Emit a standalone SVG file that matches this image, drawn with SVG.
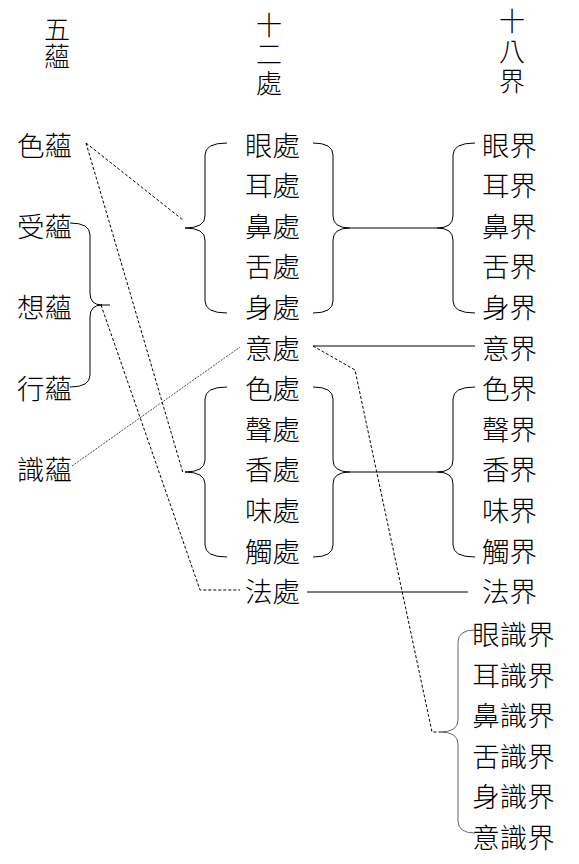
<svg xmlns="http://www.w3.org/2000/svg" width="579" height="864" viewBox="0 0 579 864">
<style>
text{font-family:"Noto Sans CJK TC","Noto Sans CJK JP",sans-serif;font-size:27.5px;font-weight:300;fill:#000;text-anchor:middle}
.t{font-size:26px;writing-mode:vertical-rl;text-anchor:start}
.c{fill:none;stroke:#000;stroke-width:1}
.g{fill:none;stroke:#666;stroke-width:1}
.d{fill:none;stroke:#000;stroke-width:1;stroke-dasharray:3 2}
.f{fill:none;stroke:#333;stroke-width:0.9;stroke-dasharray:2 1.2}
</style>
<rect width="579" height="864" fill="#fff"/>
<g id="title-wuyun"><text class="t" x="57" y="16" letter-spacing="1">五蘊</text></g>
<g id="title-shierchu"><text class="t" x="269" y="12" letter-spacing="3">十二處</text></g>
<g id="title-shibajie"><text class="t" x="512" y="8" letter-spacing="4">十八界</text></g>

<g id="skandhas">
<g id="n-seyun"><text x="44.5" y="155.5">色蘊</text></g>
<g id="n-shouyun"><text x="44.5" y="236.7">受蘊</text></g>
<g id="n-xiangyun"><text x="44.5" y="317.9">想蘊</text></g>
<g id="n-xingyun"><text x="44.5" y="399.1">行蘊</text></g>
<g id="n-shiyun"><text x="44.5" y="480.3">識蘊</text></g>
</g>

<g id="ayatanas">
<g id="n-yanchu"><text x="272.5" y="155.5">眼處</text></g>
<g id="n-erchu"><text x="272.5" y="196.1">耳處</text></g>
<g id="n-bichu"><text x="272.5" y="236.7">鼻處</text></g>
<g id="n-shechu"><text x="272.5" y="277.3">舌處</text></g>
<g id="n-shenchu"><text x="272.5" y="317.9">身處</text></g>
<g id="n-yichu"><text x="272.5" y="358.5">意處</text></g>
<g id="n-sechu"><text x="272.5" y="399.1">色處</text></g>
<g id="n-shengchu"><text x="272.5" y="439.7">聲處</text></g>
<g id="n-xiangchu"><text x="272.5" y="480.3">香處</text></g>
<g id="n-weichu"><text x="272.5" y="520.9">味處</text></g>
<g id="n-chuchu"><text x="272.5" y="561.5">觸處</text></g>
<g id="n-fachu"><text x="272.5" y="602.1">法處</text></g>
</g>

<g id="dhatus">
<g id="n-yanjie"><text x="509.5" y="155.5">眼界</text></g>
<g id="n-erjie"><text x="509.5" y="196.1">耳界</text></g>
<g id="n-bijie"><text x="509.5" y="236.7">鼻界</text></g>
<g id="n-shejie"><text x="509.5" y="277.3">舌界</text></g>
<g id="n-shenjie"><text x="509.5" y="317.9">身界</text></g>
<g id="n-yijie"><text x="509.5" y="358.5">意界</text></g>
<g id="n-sejie"><text x="509.5" y="399.1">色界</text></g>
<g id="n-shengjie"><text x="509.5" y="439.7">聲界</text></g>
<g id="n-xiangjie"><text x="509.5" y="480.3">香界</text></g>
<g id="n-weijie"><text x="509.5" y="520.9">味界</text></g>
<g id="n-chujie"><text x="509.5" y="561.5">觸界</text></g>
<g id="n-fajie"><text x="509.5" y="602.1">法界</text></g>
<g id="n-yanshijie"><text x="513.5" y="645">眼識界</text></g>
<g id="n-ershijie"><text x="513.5" y="685.6">耳識界</text></g>
<g id="n-bishijie"><text x="513.5" y="726.2">鼻識界</text></g>
<g id="n-sheshijie"><text x="513.5" y="766.8">舌識界</text></g>
<g id="n-shenshijie"><text x="513.5" y="807.4">身識界</text></g>
<g id="n-yishijie"><text x="513.5" y="848">意識界</text></g>
</g>

<g id="connectors">
<path class="c" d="M227,143 Q205,143 205,155 L205,216 Q205,228 185,228 Q205,228 205,240 L205,301 Q205,313 227,313"/>
<path class="c" d="M313,143 Q333,143 333,155 L333,216 Q333,228 350,228 Q333,228 333,240 L333,301 Q333,313 313,313"/>
<path class="c" d="M475,143 Q453,143 453,155 L453,216 Q453,228 437,228 Q453,228 453,240 L453,301 Q453,313 475,313"/>
<line class="c" x1="350" y1="228" x2="437" y2="228"/>
<path class="c" d="M227,387 Q205,387 205,399 L205,460 Q205,472 185,472 Q205,472 205,484 L205,545 Q205,557 227,557"/>
<path class="c" d="M313,387 Q333,387 333,399 L333,460 Q333,472 350,472 Q333,472 333,484 L333,545 Q333,557 313,557"/>
<path class="c" d="M475,387 Q453,387 453,399 L453,460 Q453,472 437,472 Q453,472 453,484 L453,545 Q453,557 475,557"/>
<line class="c" x1="350" y1="472" x2="437" y2="472"/>
<line class="c" x1="313" y1="346" x2="475" y2="346"/>
<line class="c" x1="307" y1="592" x2="468" y2="592"/>
<path class="c" d="M70,223 Q90,223 90,235 L90,293 Q90,305 102,305 Q90,305 90,317 L90,375 Q90,387 70,387"/>
<line class="c" x1="101" y1="305" x2="110" y2="305"/>
<polyline class="d" points="101,305 200,590 240,590"/>
<line class="d" x1="86" y1="143" x2="183" y2="220"/>
<line class="d" x1="86" y1="143" x2="183" y2="473"/>
<line class="f" x1="72" y1="466" x2="240" y2="347"/>
<path class="g" d="M475,630 Q458,630 458,642 L458,720 Q458,732 440,732 Q458,732 458,744 L458,821 Q458,833 475,833"/>
<polyline class="d" points="313,346 355,370 432,732 440,732"/>
</g>
</svg>
